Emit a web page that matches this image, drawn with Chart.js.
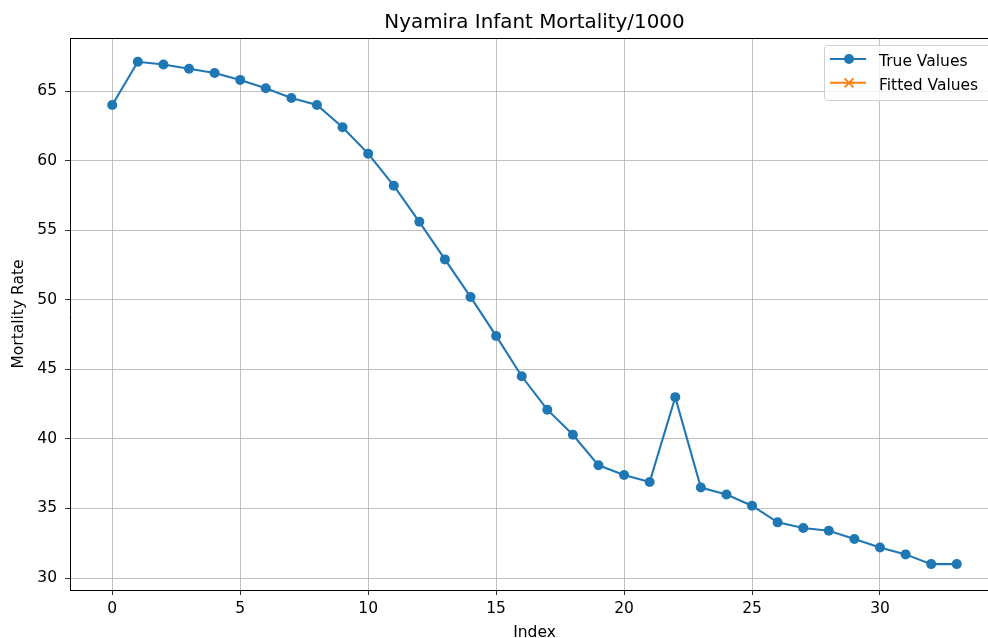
<!DOCTYPE html>
<html>
<head>
<meta charset="utf-8">
<script src="https://cdn.jsdelivr.net/npm/chart.js@4/dist/chart.umd.min.js"></script>
<style>
  html, body { margin: 0; padding: 0; background: #fff; overflow: hidden; }
  #wrap { width: 1004px; height: 638px; }
</style>
</head>
<body>
<div id="wrap"><canvas id="c" width="1004" height="638"></canvas></div>
<script>
const indices = [0,1,2,3,4,5,6,7,8,9,10,11,12,13,14,15,16,17,18,19,20,21,22,23,24,25,26,27,28,29,30,31,32,33];
const trueValues = [64.0,67.1,66.9,66.6,66.3,65.8,65.2,64.5,64.0,62.4,60.5,58.2,55.6,52.9,50.2,47.4,44.5,42.1,40.3,38.1,37.4,36.9,43.0,36.5,36.0,35.2,34.0,33.6,33.4,32.8,32.2,31.7,31.0,31.0];
const fittedValues = [];
const xTicks = [0,5,10,15,20,25,30];
const yTicks = [30,35,40,45,50,55,60,65];
const chartTitle = 'Nyamira Infant Mortality/1000';
const xTitle = 'Index';
const yTitle = 'Mortality Rate';
const seriesNames = ['True Values', 'Fitted Values'];

const FONT = "'DejaVu Sans', sans-serif";
const TXT = 15.5;

const framePlugin = {
  id: 'frame',
  afterDraw(chart) {
    const {ctx, chartArea: a} = chart;
    ctx.save();
    ctx.strokeStyle = '#000';
    ctx.lineWidth = 1;
    ctx.beginPath();
    ctx.moveTo(a.left, a.top + 0.5);
    ctx.lineTo(a.right, a.top + 0.5);
    ctx.moveTo(a.right - 0.5, a.top);
    ctx.lineTo(a.right - 0.5, a.bottom);
    ctx.stroke();
    // title centred over the axes
    ctx.fillStyle = '#000';
    ctx.font = '19.9px ' + FONT;
    ctx.textAlign = 'center';
    ctx.textBaseline = 'alphabetic';
    ctx.fillText(chartTitle, (a.left + a.right) / 2, 28.3);
    ctx.restore();
  }
};

const legendPlugin = {
  id: 'innerLegend',
  afterDraw(chart) {
    const {ctx, chartArea: a} = chart;
    const ds = chart.data.datasets;
    const bx = 824, by = 45, bw = a.right - 7 - 824, bh = 55;
    ctx.save();
    ctx.fillStyle = 'rgba(255,255,255,0.8)';
    ctx.strokeStyle = '#d0d0d0';
    ctx.lineWidth = 1;
    ctx.beginPath();
    ctx.roundRect(bx + 0.5, by + 0.5, bw, bh, 3);
    ctx.fill();
    ctx.stroke();
    ds.forEach((d, i) => {
      const y = 59 + i * 23.8;
      ctx.strokeStyle = d.borderColor;
      ctx.lineWidth = 2.1;
      ctx.beginPath();
      ctx.moveTo(830, y);
      ctx.lineTo(866, y);
      ctx.stroke();
      if (d.pointStyle === 'circle') {
        ctx.fillStyle = d.borderColor;
        ctx.beginPath();
        ctx.arc(849, y, 5, 0, Math.PI * 2);
        ctx.fill();
      } else {
        ctx.beginPath();
        ctx.moveTo(844.5, y - 4.5); ctx.lineTo(853.5, y + 4.5);
        ctx.moveTo(844.5, y + 4.5); ctx.lineTo(853.5, y - 4.5);
        ctx.lineWidth = 1.8;
        ctx.stroke();
      }
      ctx.fillStyle = '#000';
      ctx.font = TXT + 'px ' + FONT;
      ctx.textBaseline = 'alphabetic';
      ctx.textAlign = 'left';
      ctx.fillText(d.label, 879, y + 7);
    });
    ctx.restore();
  }
};

new Chart(document.getElementById('c'), {
  type: 'line',
  data: {
    datasets: [
      {
        label: seriesNames[0],
        data: indices.map((x, i) => ({x: x, y: trueValues[i]})),
        borderColor: '#1f77b4',
        backgroundColor: '#1f77b4',
        borderWidth: 2.1,
        pointStyle: 'circle',
        pointRadius: 5,
        pointBorderWidth: 0,
        pointHoverRadius: 5,
        tension: 0,
        fill: false
      },
      {
        label: seriesNames[1],
        data: fittedValues.map((v, i) => ({x: indices[i], y: v})),
        borderColor: '#ff7f0e',
        backgroundColor: '#ff7f0e',
        borderWidth: 2.1,
        pointStyle: 'crossRot',
        pointRadius: 5,
        tension: 0,
        fill: false
      }
    ]
  },
  options: {
    responsive: false,
    animation: false,
    events: [],
    layout: { padding: { left: 0, right: 1, top: 38, bottom: 0 } },
    plugins: {
      legend: { display: false },
      tooltip: { enabled: false },
      title: { display: false }
    },
    scales: {
      x: {
        type: 'linear',
        min: -1.65,
        max: 34.65,
        afterBuildTicks(s) { s.ticks = xTicks.map(v => ({value: v})); },
        afterFit(s) { s.height = 48; },
        ticks: {
          color: '#000',
          font: { family: FONT, size: TXT },
          padding: 5,
          maxRotation: 0,
          autoSkip: false
        },
        grid: { color: '#b0b0b0', lineWidth: 0.8, tickColor: '#000', tickLength: 5, drawTicks: true },
        border: { display: true, color: '#000', width: 1 },
        title: {
          display: true,
          text: xTitle,
          color: '#000',
          font: { family: FONT, size: TXT, lineHeight: 0.65 },
          padding: { top: 0, bottom: 0 }
        }
      },
      y: {
        type: 'linear',
        min: 29.14,
        max: 68.81,
        afterBuildTicks(s) { s.ticks = yTicks.map(v => ({value: v})); },
        afterFit(s) { s.width = 70; },
        ticks: {
          color: '#000',
          font: { family: FONT, size: TXT },
          padding: 8
        },
        grid: { color: '#b0b0b0', lineWidth: 0.8, tickColor: '#000', tickLength: 5, drawTicks: true },
        border: { display: true, color: '#000', width: 1 },
        title: {
          display: true,
          text: yTitle,
          color: '#000',
          font: { family: FONT, size: TXT, lineHeight: 1 },
          padding: { top: 11, bottom: 0 }
        }
      }
    }
  },
  plugins: [framePlugin, legendPlugin]
});
</script>
</body>
</html>
